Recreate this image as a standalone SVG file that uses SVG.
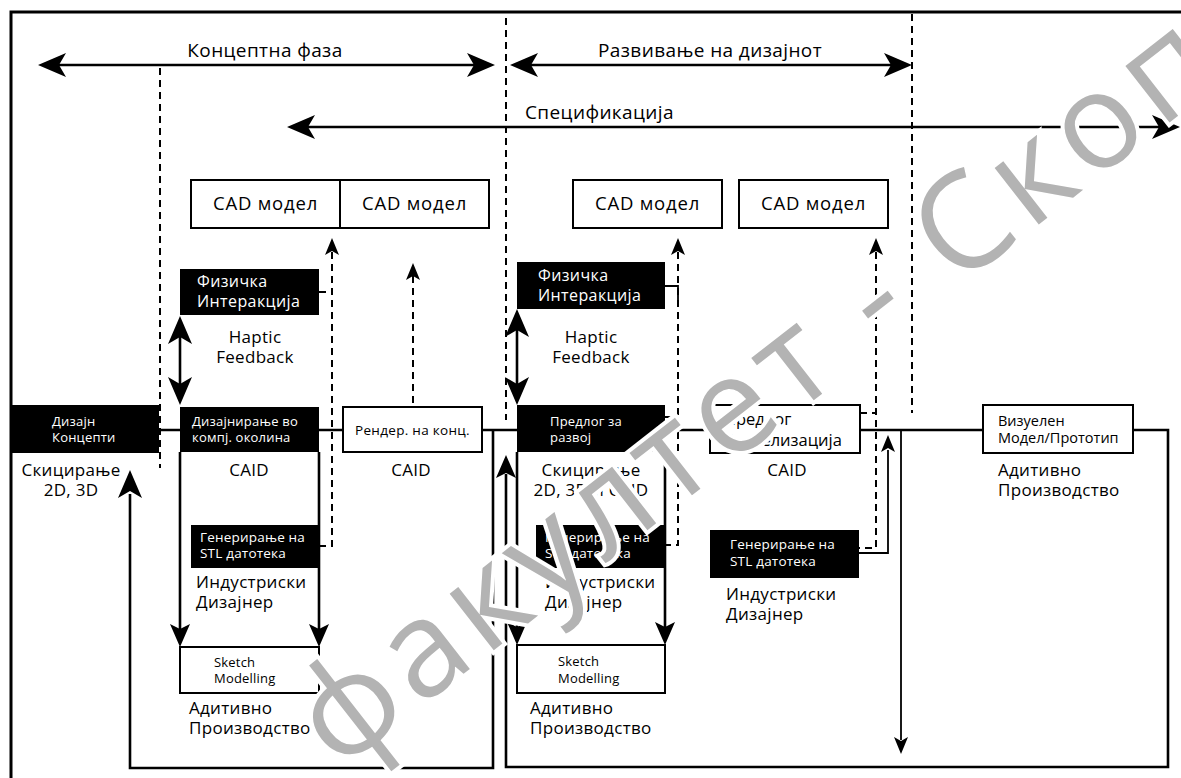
<svg xmlns="http://www.w3.org/2000/svg" width="1181" height="778" viewBox="0 0 1181 778">
  <style>
    .t { font-family: "Open Sans", "Liberation Sans", sans-serif; fill: #000; }
    .w { fill: #fff; }
    .c { text-anchor: middle; }
    .hd { font-size: 19px; letter-spacing: 0.4px; }
    .cad { font-size: 18.5px; letter-spacing: 0.8px; }
    .lb { font-size: 17px; letter-spacing: 0.3px; }
    .ph { font-size: 16px; letter-spacing: 0.4px; }
    .sm { font-size: 13px; letter-spacing: 0.2px; }
    .st { font-size: 13.5px; letter-spacing: 0.2px; }
    .rd { font-size: 13.5px; letter-spacing: 0.3px; }
    .vz { font-size: 16.5px; }
    .mp { font-size: 14.5px; }
    .ln { fill: none; stroke: #000; stroke-width: 2.6; }
    .thin { fill: none; stroke: #000; stroke-width: 1.8; }
    .dash { fill: none; stroke: #000; stroke-width: 2; stroke-dasharray: 7 5; }
    .box { fill: #fff; stroke: #000; stroke-width: 2; }
    .blk { fill: #000; }
    .wm { font-family: "Open Sans", "Liberation Sans", sans-serif; font-size: 134px; letter-spacing: 8px; fill: #b3b3b3; stroke: #fff; stroke-width: 8; paint-order: stroke; }
  </style>
  <defs>
    <!-- arrowheads, tip at origin, pointing up -->
    <path id="hBig" d="M0,0 L-12,28 L0,21 L12,28 Z"/>
    <path id="hMed" d="M0,0 L-10,23 L0,18 L10,23 Z"/>
    <path id="hSm" d="M0,0 L-7,17 L0,13 L7,17 Z"/>
  </defs>

  <rect width="1181" height="778" fill="#fff"/>

  <!-- outer frame -->
  <path d="M11,778 V12 H1181" fill="none" stroke="#000" stroke-width="3"/>

  <!-- phase lines -->
  <g id="phases">
    <line x1="160" y1="68" x2="160" y2="468" class="dash"/>
    <line x1="506" y1="18" x2="506" y2="420" class="dash"/>
    <line x1="912" y1="14" x2="912" y2="413" class="dash"/>
    <line x1="55" y1="65" x2="478" y2="65" class="ln" stroke-width="3"/>
    <use href="#hBig" transform="translate(38,65) rotate(-90)"/>
    <use href="#hBig" transform="translate(495,65) rotate(90)"/>
    <line x1="527" y1="65" x2="895" y2="65" class="ln" stroke-width="3"/>
    <use href="#hBig" transform="translate(510,65) rotate(-90)"/>
    <use href="#hBig" transform="translate(912,65) rotate(90)"/>
    <line x1="304" y1="127" x2="1163" y2="127" class="ln" stroke-width="3"/>
    <use href="#hBig" transform="translate(287,127) rotate(-90)"/>
    <use href="#hBig" transform="translate(1180,127) rotate(90)"/>
    <text x="265" y="57" class="t c hd">Концептна фаза</text>
    <text x="710" y="57" class="t c hd">Развивање на дизајнот</text>
    <text x="525" y="119" class="t hd">Спецификација</text>
  </g>

  <!-- connectors -->
  <g id="connectors">
    <!-- main flow line -->
    <path d="M159,430 H180 M319,430 H343 M482,430 H517 M665,430 H710 M860,430 H983" class="ln"/>
    <!-- return loop from the prototype -->
    <path d="M1133,430 H1168 V767 H506 V474" class="ln"/>
    <use href="#hMed" transform="translate(506,455)"/>
    <!-- return loop to sketching -->
    <path d="M493,430 V768 H130 V494" class="ln"/>
    <use href="#hBig" transform="translate(130,470)"/>
    <!-- first design frame -->
    <path d="M180,452 V630 M319,452 V630" class="ln"/>
    <use href="#hMed" transform="translate(180,647) rotate(180)"/>
    <use href="#hMed" transform="translate(319,647) rotate(180)"/>
    <!-- second design frame -->
    <path d="M517,452 V628 M665,452 V628" class="ln"/>
    <use href="#hMed" transform="translate(517,645) rotate(180)"/>
    <use href="#hMed" transform="translate(665,645) rotate(180)"/>
    <!-- haptic feedback -->
    <line x1="180" y1="335" x2="180" y2="386" class="ln"/>
    <use href="#hBig" transform="translate(180,316)"/>
    <use href="#hBig" transform="translate(180,405) rotate(180)"/>
    <line x1="517" y1="328" x2="517" y2="386" class="ln"/>
    <use href="#hBig" transform="translate(517,309)"/>
    <use href="#hBig" transform="translate(517,405) rotate(180)"/>
    <!-- STL to visualisation -->
    <path d="M859,553 H888 V450" class="thin"/>
    <use href="#hSm" transform="translate(888,435)"/>
    <line x1="901" y1="430" x2="901" y2="740" class="thin"/>
    <use href="#hSm" transform="translate(901,754) rotate(180)"/>
    <!-- CAD model feeds -->
    <path d="M332,252 V546 H319" class="dash"/>
    <use href="#hSm" transform="translate(332,238)"/>
    <line x1="319" y1="292" x2="332" y2="292" class="dash"/>
    <line x1="413" y1="276" x2="413" y2="407" class="dash"/>
    <use href="#hSm" transform="translate(413,263)"/>
    <path d="M678,252 V545 H665" class="dash"/>
    <use href="#hSm" transform="translate(678,238)"/>
    <line x1="665" y1="417" x2="678" y2="417" class="dash"/>
    <path d="M665,286 H678 V300" class="thin"/>
    <path d="M876,252 V548 H859" class="dash"/>
    <use href="#hSm" transform="translate(876,238)"/>
    <line x1="860" y1="413" x2="876" y2="413" class="dash"/>
  </g>

  <!-- CAD models -->
  <g id="cad1"><rect x="191" y="180" width="149" height="48" class="box"/><text x="265.5" y="210" class="t c cad">CAD модел</text></g>
  <g id="cad2"><rect x="340" y="180" width="149" height="48" class="box"/><text x="414.5" y="210" class="t c cad">CAD модел</text></g>
  <g id="cad3"><rect x="573" y="180" width="149" height="48" class="box"/><text x="647.5" y="210" class="t c cad">CAD модел</text></g>
  <g id="cad4"><rect x="739" y="180" width="149" height="48" class="box"/><text x="813.5" y="210" class="t c cad">CAD модел</text></g>

  <!-- physical interaction -->
  <g id="phys1">
    <rect x="180" y="269" width="139" height="46" class="blk"/>
    <text class="t w ph"><tspan x="197" y="287">Физичка</tspan><tspan x="197" y="307">Интеракција</tspan></text>
    <text class="t c lb"><tspan x="255" y="343">Haptic</tspan><tspan x="255" y="363">Feedback</tspan></text>
  </g>
  <g id="phys2">
    <rect x="517" y="262" width="148" height="47" class="blk"/>
    <text class="t w ph"><tspan x="538" y="281">Физичка</tspan><tspan x="538" y="301">Интеракција</tspan></text>
    <text class="t c lb"><tspan x="591" y="343">Haptic</tspan><tspan x="591" y="363">Feedback</tspan></text>
  </g>

  <!-- design concepts -->
  <g id="concepts">
    <rect x="11" y="405" width="148" height="48" class="blk"/>
    <text class="t w sm"><tspan x="52" y="426">Дизајн</tspan><tspan x="52" y="442">Концепти</tspan></text>
    <text class="t c lb"><tspan x="71" y="476">Скицирање</tspan><tspan x="71" y="496">2D, 3D</tspan></text>
  </g>

  <!-- computer design -->
  <g id="compdesign">
    <rect x="180" y="407" width="139" height="45" class="blk"/>
    <text class="t w sm"><tspan x="192" y="426">Дизајнирање во</tspan><tspan x="192" y="442">компј. околина</tspan></text>
    <text x="249" y="476" class="t c lb">CAID</text>
  </g>

  <!-- render -->
  <g id="render">
    <rect x="343" y="407" width="139" height="45" class="box"/>
    <text x="412.5" y="435" class="t c rd">Рендер. на конц.</text>
    <text x="411" y="476" class="t c lb">CAID</text>
  </g>

  <!-- development proposal -->
  <g id="proposal">
    <rect x="517" y="405" width="148" height="47" class="blk"/>
    <text class="t w sm"><tspan x="550" y="426">Предлог за</tspan><tspan x="550" y="442">развој</tspan></text>
    <text class="t c lb"><tspan x="591" y="476">Скицирање</tspan><tspan x="591" y="496">2D, 3D и CAID</tspan></text>
  </g>

  <!-- visualisation proposal -->
  <g id="visual">
    <rect x="710" y="405" width="150" height="48" class="box"/>
    <text class="t vz"><tspan x="724" y="425">Предлог</tspan><tspan x="724" y="446">Визуелизација</tspan></text>
    <text x="787" y="476" class="t c lb">CAID</text>
  </g>

  <!-- prototype -->
  <g id="prototype">
    <rect x="983" y="405" width="150" height="48" class="box"/>
    <text class="t mp"><tspan x="998" y="426">Визуелен</tspan><tspan x="998" y="443">Модел/Прототип</tspan></text>
    <text class="t lb"><tspan x="998" y="476">Адитивно</tspan><tspan x="998" y="496">Производство</tspan></text>
  </g>

  <!-- STL generation -->
  <g id="stl1">
    <rect x="191" y="525" width="127" height="43" class="blk"/>
    <text class="t w st"><tspan x="200" y="542">Генерирање на</tspan><tspan x="200" y="558">STL датотека</tspan></text>
    <text class="t lb"><tspan x="196" y="588">Индустриски</tspan><tspan x="196" y="608">Дизајнер</tspan></text>
  </g>
  <g id="stl2">
    <rect x="536" y="525" width="129" height="43" class="blk"/>
    <text class="t w st"><tspan x="545" y="542">Генерирање на</tspan><tspan x="545" y="558">STL датотека</tspan></text>
    <text class="t lb"><tspan x="545" y="588">Индустриски</tspan><tspan x="545" y="608">Дизајнер</tspan></text>
  </g>
  <g id="stl3">
    <rect x="710" y="530" width="149" height="48" class="blk"/>
    <text class="t w st"><tspan x="730" y="549">Генерирање на</tspan><tspan x="730" y="566">STL датотека</tspan></text>
    <text class="t lb"><tspan x="726" y="600">Индустриски</tspan><tspan x="726" y="620">Дизајнер</tspan></text>
  </g>

  <!-- sketch modelling -->
  <g id="sketch1">
    <rect x="180" y="647" width="139" height="46" class="box"/>
    <text class="t sm"><tspan x="214" y="667">Sketch</tspan><tspan x="214" y="683">Modelling</tspan></text>
    <text class="t lb"><tspan x="189" y="714">Адитивно</tspan><tspan x="189" y="734">Производство</tspan></text>
  </g>
  <g id="sketch2">
    <rect x="517" y="645" width="148" height="48" class="box"/>
    <text class="t sm"><tspan x="558" y="666">Sketch</tspan><tspan x="558" y="683">Modelling</tspan></text>
    <text class="t lb"><tspan x="530" y="714">Адитивно</tspan><tspan x="530" y="734">Производство</tspan></text>
  </g>

  <!-- watermark -->
  <text x="338" y="772" transform="rotate(-38 338 772)" class="wm">факултет - Скопје</text>
</svg>
